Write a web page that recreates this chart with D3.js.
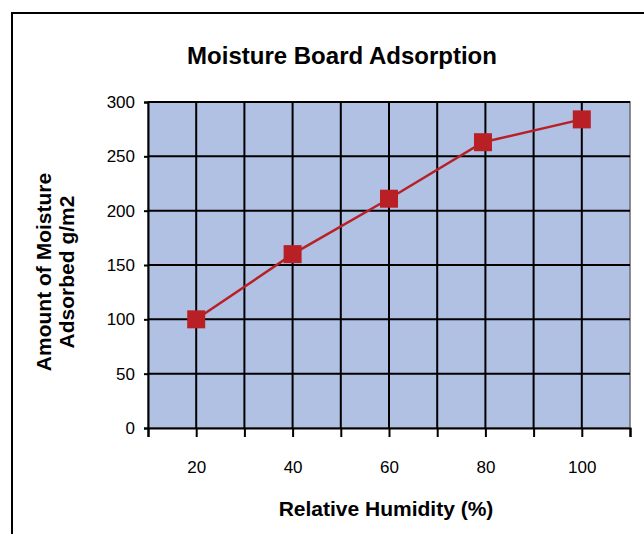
<!DOCTYPE html>
<html>
<head>
<meta charset="utf-8">
<script src="https://cdn.jsdelivr.net/npm/d3@7"></script>
<style>
  html, body { margin: 0; padding: 0; background: #fff; }
  svg { display: block; font-family: "Liberation Sans", Arial, sans-serif; }
</style>
</head>
<body>
<svg id="chart" width="644" height="534"></svg>
<script>
// ---- data ----
const humidity = [20, 40, 60, 79.5, 100];
const adsorbed = [100, 160, 211, 263, 284];
const xTickValues = [10, 20, 30, 40, 50, 60, 70, 80, 90, 100, 110];
const xLabelValues = [20, 40, 60, 80, 100];
const yTickValues = [0, 50, 100, 150, 200, 250, 300];
const title = "Moisture Board Adsorption";
const xTitle = "Relative Humidity (%)";
const yTitleLines = ["Amount of Moisture", "Adsorbed g/m2"];

const svg = d3.select("#chart");
const plot = { left: 148, right: 630, top: 102, bottom: 428 };

// outer chart border
svg.append("rect")
  .attr("x", 12).attr("y", 13).attr("width", 660).attr("height", 540)
  .attr("fill", "#fff").attr("stroke", "#000").attr("stroke-width", 2);

const x = d3.scaleLinear().domain([10, 110]).range([plot.left, plot.right]);
const y = d3.scaleLinear().domain([0, 300]).range([plot.bottom, plot.top]);

// plot background
svg.append("rect")
  .attr("x", plot.left).attr("y", plot.top)
  .attr("width", plot.right - plot.left).attr("height", plot.bottom - plot.top)
  .attr("fill", "#B0C1E4").attr("stroke", "#6b6b6b").attr("stroke-width", 1.5);

// gridlines
const grid = svg.append("g");
grid.selectAll("line.v").data(xTickValues.filter(d => d > 10 && d < 110)).join("line")
  .attr("x1", d => x(d)).attr("x2", d => x(d))
  .attr("y1", plot.top).attr("y2", plot.bottom)
  .attr("stroke", "#000").attr("stroke-width", 2);
grid.selectAll("line.h").data(yTickValues.filter(d => d > 0)).join("line")
  .attr("x1", plot.left).attr("x2", plot.right)
  .attr("y1", d => y(d)).attr("y2", d => y(d))
  .attr("stroke", "#000").attr("stroke-width", 2);

// axes
const xAxis = svg.append("g")
  .attr("transform", `translate(0,${plot.bottom})`)
  .call(d3.axisBottom(x).tickValues(xTickValues).tickSize(9).tickPadding(24)
    .tickFormat(d => xLabelValues.includes(d) ? d : ""));
const yAxis = svg.append("g")
  .attr("transform", `translate(${plot.left},0)`)
  .call(d3.axisLeft(y).tickValues(yTickValues).tickSize(4).tickPadding(9));
[xAxis, yAxis].forEach(a => {
  a.select(".domain").attr("stroke", "#000").attr("stroke-width", 2);
  a.selectAll(".tick line").attr("stroke", "#000").attr("stroke-width", 2);
  a.selectAll(".tick text").attr("fill", "#000")
    .style("font-size", "17px").style("font-family", "'Liberation Sans', Arial, sans-serif");
});

// series
const pts = humidity.map((h, i) => [h, adsorbed[i]]);
svg.append("path")
  .datum(pts)
  .attr("fill", "none").attr("stroke", "#B82025").attr("stroke-width", 2.5)
  .attr("d", d3.line().x(d => x(d[0])).y(d => y(d[1])));
const ms = 18;
svg.selectAll("rect.marker").data(pts).join("rect")
  .attr("class", "marker")
  .attr("x", d => x(d[0]) - ms / 2).attr("y", d => y(d[1]) - ms / 2)
  .attr("width", ms).attr("height", ms)
  .attr("fill", "#B82025");

// titles
svg.append("text")
  .attr("x", 342).attr("y", 64).attr("text-anchor", "middle")
  .style("font-size", "24px").style("font-weight", "bold")
  .text(title);
svg.append("text")
  .attr("x", 386).attr("y", 516).attr("text-anchor", "middle")
  .style("font-size", "21px").style("font-weight", "bold")
  .text(xTitle);
const yt = svg.append("text")
  .attr("transform", "translate(0,272) rotate(-90)")
  .attr("text-anchor", "middle")
  .style("font-size", "21px").style("font-weight", "bold");
yt.selectAll("tspan").data(yTitleLines).join("tspan")
  .attr("x", 0).attr("y", (d, i) => i === 0 ? 51 : 74)
  .text(d => d);
</script>
</body>
</html>
